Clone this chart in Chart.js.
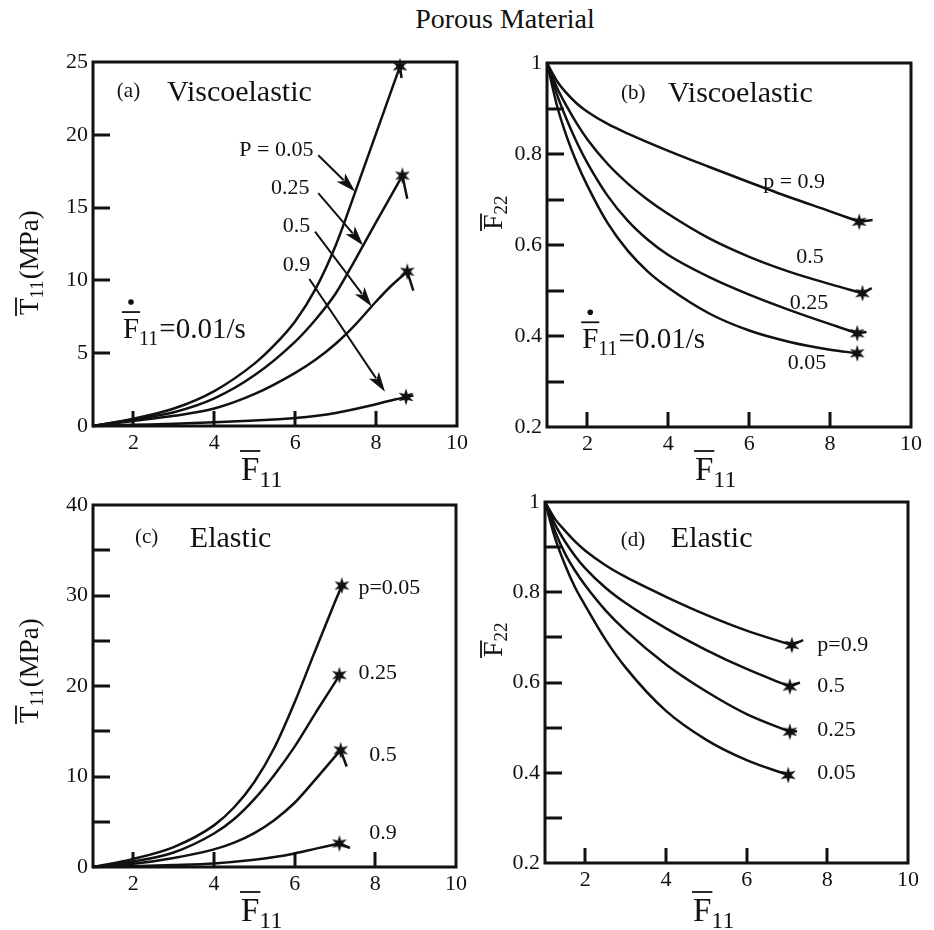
<!DOCTYPE html>
<html>
<head>
<meta charset="utf-8">
<script src="https://cdn.jsdelivr.net/npm/chart.js@4.4.0/dist/chart.umd.min.js"></script>
<style>
  html, body { margin: 0; padding: 0; background: #fff; }
  #wrap { position: relative; width: 934px; height: 930px; overflow: hidden; }
  #title { position: absolute; left: 0; top: 6px; width: 1010px; text-align: center;
           font: 28px/26px "Liberation Serif", serif; color: #111; }
  canvas { position: absolute; }
</style>
</head>
<body>
<div id="wrap">
  <div id="title">Porous Material</div>
  <canvas id="ca" width="490" height="500" style="left:0;top:0"></canvas>
  <canvas id="cb" width="467" height="500" style="left:467px;top:0"></canvas>
  <canvas id="cc" width="490" height="463" style="left:0;top:467px"></canvas>
  <canvas id="cd" width="467" height="463" style="left:467px;top:467px"></canvas>
</div>
<script>
// ---- tick values ----
const stretchTicks = [2, 4, 6, 8, 10];
const stressTicksA = [0, 5, 10, 15, 20, 25];
const stressTicksC = [0, 5, 10, 15, 20, 25, 30, 35, 40];
const stressLabelsC = [0, 10, 20, 30, 40];
const lateralTicks = [0.2, 0.3, 0.4, 0.5, 0.6, 0.7, 0.8, 0.9, 1];
const lateralLabels = [0.2, 0.4, 0.6, 0.8, 1];

// ---- (a) viscoelastic, T11 vs F11 (p = 0.05, 0.25, 0.5, 0.9) ----
const a005x = [1, 2, 3, 4, 5, 5.5, 6, 6.5, 7, 7.5, 8, 8.59, 8.63];
const a005y = [0, 0.5, 1.2, 2.4, 4.3, 5.6, 7.2, 9.4, 12.4, 16.2, 20.1, 24.7, 23.9];
const a025x = [1, 2, 3, 4, 5, 6, 6.5, 7, 7.5, 8, 8.65, 8.77];
const a025y = [0, 0.45, 0.95, 1.9, 3.5, 5.8, 7.3, 9.1, 11.5, 14.0, 17.2, 15.6];
const a05x = [1, 2, 3, 4, 5, 6, 6.5, 7, 7.5, 8, 8.4, 8.77, 8.92];
const a05y = [0, 0.35, 0.7, 1.2, 2.2, 3.65, 4.55, 5.65, 7.0, 8.55, 9.7, 10.6, 9.3];
const a09x = [1, 2, 3, 4, 5, 6, 7, 8, 8.74, 8.92];
const a09y = [0, 0.08, 0.15, 0.25, 0.38, 0.55, 0.9, 1.5, 2.0, 2.1];
const starsA = [11, 10, 11, 8];

// ---- (b) viscoelastic, F22 vs F11 ----
const b005x = [1, 1.25, 1.5, 1.75, 2, 2.5, 3, 3.5, 4, 5, 6, 7, 8, 8.67];
const b005y = [1, 0.905, 0.835, 0.778, 0.73, 0.648, 0.587, 0.541, 0.506, 0.45, 0.412, 0.387, 0.37, 0.362];
const b025x = [1, 1.25, 1.5, 1.75, 2, 2.5, 3, 3.5, 4, 5, 6, 7, 8, 8.67, 8.9];
const b025y = [1, 0.93, 0.873, 0.823, 0.78, 0.708, 0.653, 0.611, 0.578, 0.53, 0.491, 0.457, 0.426, 0.406, 0.409];
const b05x = [1, 1.25, 1.5, 1.75, 2, 2.5, 3, 3.5, 4, 5, 6, 7, 8, 8.8, 9.03];
const b05y = [1, 0.945, 0.903, 0.865, 0.832, 0.778, 0.735, 0.699, 0.668, 0.615, 0.574, 0.541, 0.514, 0.494, 0.505];
const b09x = [1, 1.25, 1.5, 1.75, 2, 2.5, 3, 4, 5, 6, 7, 8, 8.72, 9.05];
const b09y = [1, 0.96, 0.932, 0.91, 0.893, 0.866, 0.845, 0.807, 0.772, 0.738, 0.705, 0.674, 0.651, 0.655];
const starsB = [13, 13, 13, 12];

// ---- (c) elastic, T11 vs F11 ----
const c005x = [1, 2, 3, 4, 4.5, 5, 5.5, 6, 6.5, 7, 7.17];
const c005y = [0, 0.9, 2.2, 4.6, 6.6, 9.4, 13.2, 18.2, 23.8, 29.3, 31.1];
const c025x = [1, 2, 3, 4, 4.5, 5, 5.5, 6, 6.5, 7, 7.11];
const c025y = [0, 0.6, 1.6, 3.7, 5.3, 7.5, 10.2, 13.3, 16.9, 20.4, 21.2];
const c05x = [1, 2, 3, 4, 4.5, 5, 5.5, 6, 6.5, 7, 7.14, 7.29];
const c05y = [0, 0.35, 1.0, 1.95, 2.7, 3.75, 5.2, 7.1, 9.6, 12.2, 12.9, 11.1];
const c09x = [1, 2, 3, 4, 5, 5.5, 6, 6.5, 7.11, 7.37];
const c09y = [0, 0.1, 0.22, 0.4, 0.8, 1.1, 1.5, 2.0, 2.6, 2.1];
const starsC = [10, 10, 10, 8];

// ---- (d) elastic, F22 vs F11 ----
const d005x = [1, 1.25, 1.5, 1.75, 2, 2.5, 3, 4, 5, 6, 7.03];
const d005y = [1, 0.92, 0.86, 0.81, 0.77, 0.695, 0.633, 0.537, 0.473, 0.428, 0.395];
const d025x = [1, 1.25, 1.5, 1.75, 2, 2.5, 3, 4, 5, 6, 7.07, 7.25];
const d025y = [1, 0.935, 0.885, 0.847, 0.815, 0.76, 0.715, 0.64, 0.58, 0.53, 0.491, 0.492];
const d05x = [1, 1.25, 1.5, 1.75, 2, 2.5, 3, 4, 5, 6, 7.07, 7.32];
const d05y = [1, 0.95, 0.912, 0.88, 0.853, 0.81, 0.776, 0.72, 0.672, 0.63, 0.591, 0.6];
const d09x = [1, 1.25, 1.5, 1.75, 2, 2.5, 3, 4, 5, 6, 7.12, 7.4];
const d09y = [1, 0.962, 0.936, 0.912, 0.892, 0.86, 0.834, 0.79, 0.75, 0.715, 0.683, 0.694];
const starsD = [10, 10, 10, 10];

const ink = '#111';
const serif = '"Liberation Serif", "Times New Roman", serif';
const tickFont = { family: serif, size: 22 };

// six-pointed star used as the end marker
function makeStar() {
    const c = document.createElement('canvas');
    c.width = 20; c.height = 20;
    const g = c.getContext('2d');
    g.fillStyle = ink;
    g.beginPath();
    for (let k = 0; k < 12; k++) {
        const r = k % 2 === 0 ? 8.5 : 3.4;
        const a = -Math.PI / 2 + k * Math.PI / 6;
        g.lineTo(10 + r * Math.cos(a), 10 + r * Math.sin(a));
    }
    g.closePath();
    g.fill();
    return c;
}
const starImg = makeStar();

// main curve up to the star, then the short tail drawn straight
function curve(xs, ys, star) {
    const pts = xs.map((x, i) => ({ x: x, y: ys[i] }));
    const line = {
        showLine: true, borderColor: ink, borderWidth: 2.5, clip: false,
        pointStyle: starImg, pointBorderWidth: 0,
    };
    const sets = [Object.assign({}, line, {
        data: pts.slice(0, star + 1),
        cubicInterpolationMode: 'monotone',
        pointRadius: c => c.dataIndex === star ? 8 : 0,
    })];
    if (star < pts.length - 1) {
        sets.push(Object.assign({}, line, { data: pts.slice(star), tension: 0, pointRadius: 0 }));
    }
    return sets;
}

// bar over the main letter, optional dot, then subscript and the rest
function drawSym(ctx, x, y, s) {
    ctx.textAlign = 'left';
    ctx.textBaseline = 'alphabetic';
    ctx.font = s.size + 'px ' + serif;
    const wm = ctx.measureText(s.main).width;
    ctx.fillText(s.main, x, y);
    ctx.lineWidth = 1.8;
    ctx.beginPath();
    ctx.moveTo(x - 1, y - s.barH);
    ctx.lineTo(x + wm + 1, y - s.barH);
    ctx.stroke();
    if (s.dotH) {
        ctx.beginPath();
        ctx.arc(x + wm / 2, y - s.dotH, 2.8, 0, Math.PI * 2);
        ctx.fill();
    }
    ctx.font = s.subSize + 'px ' + serif;
    const ws = ctx.measureText(s.sub).width;
    ctx.fillText(s.sub, x + wm, y + s.drop);
    if (s.rest) {
        ctx.font = s.size + 'px ' + serif;
        ctx.fillText(s.rest, x + wm + ws + 1, y);
    }
}

function drawArrow(ctx, x0, y0, x1, y1) {
    const ang = Math.atan2(y1 - y0, x1 - x0);
    const cs = Math.cos(ang), sn = Math.sin(ang);
    const len = 20, half = 6;
    const bx = x1 - len * cs, by = y1 - len * sn;
    ctx.lineWidth = 2;
    ctx.beginPath();
    ctx.moveTo(x0, y0);
    ctx.lineTo(bx + 4 * cs, by + 4 * sn);
    ctx.stroke();
    ctx.beginPath();
    ctx.moveTo(x1, y1);
    ctx.lineTo(bx + half * sn, by - half * cs);
    ctx.lineTo(bx + 5 * cs, by + 5 * sn);
    ctx.lineTo(bx - half * sn, by + half * cs);
    ctx.closePath();
    ctx.fill();
}

// frame, inward ticks, annotations and axis titles
const deco = {
    id: 'deco',
    afterDraw(chart, args, o) {
        const ctx = chart.ctx;
        const { left, right, top, bottom } = chart.chartArea;
        const xs = chart.scales.x, ys = chart.scales.y;
        ctx.save();
        ctx.strokeStyle = ink;
        ctx.fillStyle = ink;
        ctx.lineWidth = 3;
        ctx.strokeRect(left, top, right - left, bottom - top);
        xs.ticks.forEach(t => {
            if (t.value <= xs.min || t.value >= xs.max) return;
            const px = Math.round(xs.getPixelForValue(t.value));
            ctx.beginPath(); ctx.moveTo(px, bottom); ctx.lineTo(px, bottom - 15); ctx.stroke();
        });
        ys.ticks.forEach(t => {
            if (t.value <= ys.min || t.value >= ys.max) return;
            const py = Math.round(ys.getPixelForValue(t.value));
            ctx.beginPath(); ctx.moveTo(left, py); ctx.lineTo(left + 17, py); ctx.stroke();
        });
        (o.arrows || []).forEach(a => {
            drawArrow(ctx, xs.getPixelForValue(a[0]), ys.getPixelForValue(a[1]),
                xs.getPixelForValue(a[2]), ys.getPixelForValue(a[3]));
        });
        (o.texts || []).forEach(t => {
            ctx.font = t.size + 'px ' + serif;
            ctx.textAlign = t.align || 'left';
            ctx.textBaseline = t.base || 'middle';
            ctx.fillText(t.t, xs.getPixelForValue(t.x), ys.getPixelForValue(t.y));
        });
        if (o.rate) {
            drawSym(ctx, xs.getPixelForValue(o.rate[0]), ys.getPixelForValue(o.rate[1]),
                { main: 'F', sub: '11', rest: '=0.01/s', size: 29, subSize: 20, drop: 7, barH: 26, dotH: 36 });
        }
        drawSym(ctx, left + 148, bottom + o.xTitle, { main: 'F', sub: '11', size: 33, subSize: 24, drop: 7, barH: 29 });
        ctx.translate(left + o.yTitle[0], bottom + o.yTitle[1]);
        ctx.rotate(-Math.PI / 2);
        drawSym(ctx, 0, 0, o.yLabel);
        ctx.restore();
    }
};

function makePanel(id, cfg) {
    return new Chart(document.getElementById(id), {
        type: 'scatter',
        data: { datasets: cfg.sets },
        options: {
            responsive: false,
            animation: false,
            events: [],
            layout: { padding: { top: cfg.top, right: cfg.right, left: 0, bottom: 0 } },
            plugins: { legend: { display: false }, tooltip: { enabled: false }, deco: cfg.deco },
            scales: {
                x: {
                    type: 'linear', min: 1, max: 10,
                    grid: { display: false, drawTicks: false }, border: { display: false },
                    afterBuildTicks: s => { s.ticks = stretchTicks.map(v => ({ value: v })); },
                    afterFit: s => { s.height = cfg.xh; },
                    ticks: { padding: 4, font: tickFont, color: ink, maxRotation: 0, autoSkip: false,
                             callback: v => String(v) },
                },
                y: {
                    type: 'linear', min: cfg.ymin, max: cfg.ymax,
                    grid: { display: false, drawTicks: false }, border: { display: false },
                    afterBuildTicks: s => { s.ticks = cfg.yticks.map(v => ({ value: v })); },
                    afterFit: s => { s.width = cfg.yw; },
                    ticks: { padding: 5, font: tickFont, color: ink, autoSkip: false,
                             callback: v => cfg.ylabels.includes(v) ? String(v) : '' },
                },
            },
        },
        plugins: [deco],
    });
}

const stressLabel = { main: 'T', sub: '11', rest: '(MPa)', size: 27, subSize: 19, drop: 5, barH: 22 };
const lateralLabel = { main: 'F', sub: '22', size: 28, subSize: 19, drop: 5, barH: 21 };

makePanel('ca', {
    sets: [].concat(curve(a005x, a005y, starsA[0]), curve(a025x, a025y, starsA[1]),
                    curve(a05x, a05y, starsA[2]), curve(a09x, a09y, starsA[3])),
    top: 62, right: 33, yw: 93, xh: 74,
    ymin: 0, ymax: 25, yticks: stressTicksA, ylabels: stressTicksA,
    deco: {
        xTitle: 54, yTitle: [-55, -111], yLabel: stressLabel, rate: [1.74, 6.04],
        texts: [
            { t: '(a)', x: 1.59, y: 22.6, size: 21, base: 'alphabetic' },
            { t: 'Viscoelastic', x: 2.83, y: 22.3, size: 30, base: 'alphabetic' },
            { t: 'P = 0.05', x: 6.45, y: 18.96, size: 22, align: 'right' },
            { t: '0.25', x: 6.35, y: 16.3, size: 22, align: 'right' },
            { t: '0.5', x: 6.37, y: 13.7, size: 22, align: 'right' },
            { t: '0.9', x: 6.37, y: 11.06, size: 22, align: 'right' },
        ],
        arrows: [
            [6.57, 18.6, 7.48, 16.1],
            [6.57, 16.0, 7.68, 12.4],
            [6.49, 13.35, 7.89, 8.2],
            [6.35, 10.1, 8.22, 2.36],
        ],
    },
});

makePanel('cb', {
    sets: [].concat(curve(b005x, b005y, starsB[0]), curve(b025x, b025y, starsB[1]),
                    curve(b05x, b05y, starsB[2]), curve(b09x, b09y, starsB[3])),
    top: 63, right: 23, yw: 80, xh: 73,
    ymin: 0.2, ymax: 1, yticks: lateralTicks, ylabels: lateralLabels,
    deco: {
        xTitle: 53, yTitle: [-45, -197], yLabel: lateralLabel, rate: [1.87, 0.373],
        texts: [
            { t: '(b)', x: 2.83, y: 0.92, size: 21, base: 'alphabetic' },
            { t: 'Viscoelastic', x: 3.99, y: 0.915, size: 30, base: 'alphabetic' },
            { t: 'p = 0.9', x: 7.11, y: 0.739, size: 22, align: 'center' },
            { t: '0.5', x: 7.5, y: 0.573, size: 22, align: 'center' },
            { t: '0.25', x: 7.48, y: 0.472, size: 22, align: 'center' },
            { t: '0.05', x: 7.43, y: 0.34, size: 22, align: 'center' },
        ],
    },
});

makePanel('cc', {
    sets: [].concat(curve(c005x, c005y, starsC[0]), curve(c025x, c025y, starsC[1]),
                    curve(c05x, c05y, starsC[2]), curve(c09x, c09y, starsC[3])),
    top: 38, right: 34, yw: 93, xh: 63,
    ymin: 0, ymax: 40, yticks: stressTicksC, ylabels: stressLabelsC,
    deco: {
        xTitle: 54, yTitle: [-55, -144], yLabel: stressLabel,
        texts: [
            { t: '(c)', x: 2.04, y: 35.8, size: 21, base: 'alphabetic' },
            { t: 'Elastic', x: 3.4, y: 35.4, size: 30, base: 'alphabetic' },
            { t: 'p=0.05', x: 7.58, y: 30.8, size: 22 },
            { t: '0.25', x: 7.58, y: 21.4, size: 22 },
            { t: '0.5', x: 7.85, y: 12.4, size: 22 },
            { t: '0.9', x: 7.85, y: 3.72, size: 22 },
        ],
    },
});

makePanel('cd', {
    sets: [].concat(curve(d005x, d005y, starsD[0]), curve(d025x, d025y, starsD[1]),
                    curve(d05x, d05y, starsD[2]), curve(d09x, d09y, starsD[3])),
    top: 35, right: 26, yw: 78, xh: 67,
    ymin: 0.2, ymax: 1, yticks: lateralTicks, ylabels: lateralLabels,
    deco: {
        xTitle: 58, yTitle: [-43, -206], yLabel: lateralLabel,
        texts: [
            { t: '(d)', x: 2.88, y: 0.902, size: 21, base: 'alphabetic' },
            { t: 'Elastic', x: 4.12, y: 0.901, size: 30, base: 'alphabetic' },
            { t: 'p=0.9', x: 7.75, y: 0.683, size: 22 },
            { t: '0.5', x: 7.75, y: 0.591, size: 22 },
            { t: '0.25', x: 7.75, y: 0.495, size: 22 },
            { t: '0.05', x: 7.75, y: 0.399, size: 22 },
        ],
    },
});
</script>
</body>
</html>
